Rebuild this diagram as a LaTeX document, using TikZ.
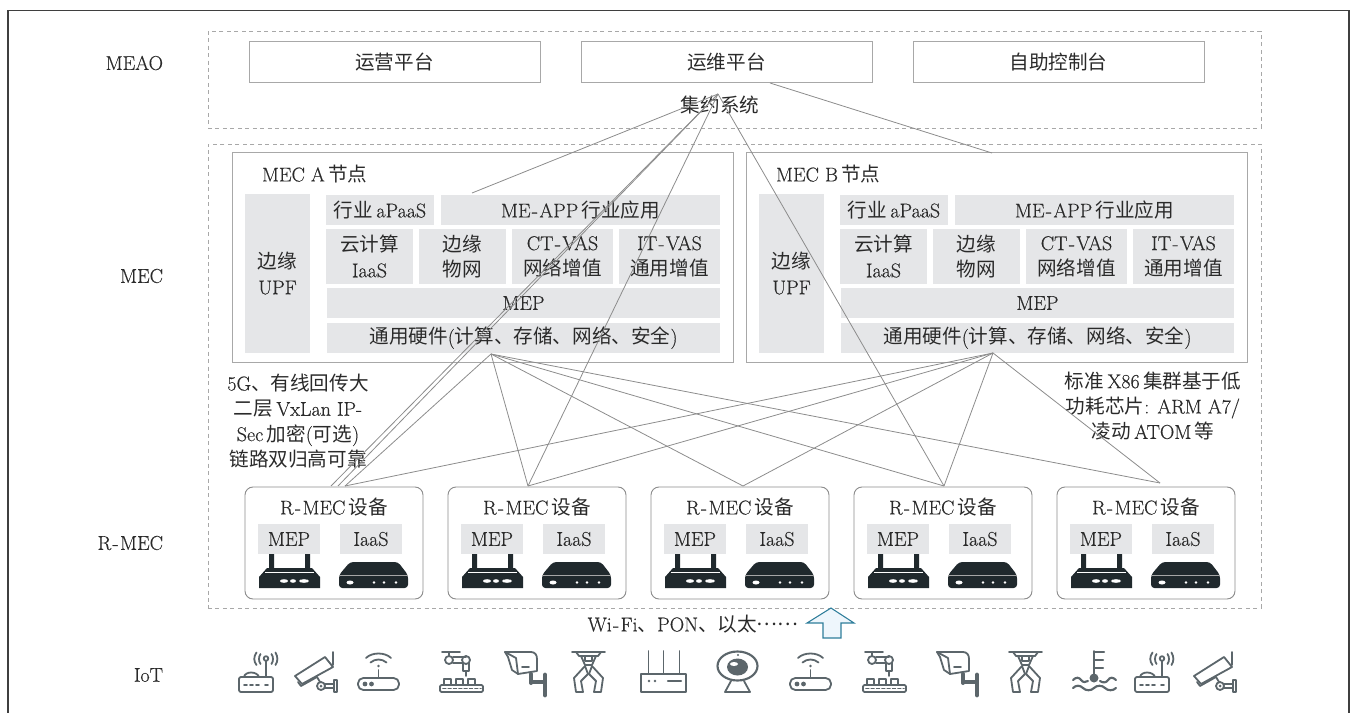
\documentclass[tikz,border=0pt]{standalone}
\usepackage{fontspec}
\setmainfont{Latin Modern Roman}[RawFeature={embolden=0.35}]
\newfontfamily\cjk{Noto Sans CJK SC}[Scale=0.98]
\newcommand{\zh}[1]{{\cjk #1}}
\newcommand{\hy}{\kern.07em-\kern.07em}
\definecolor{boxline}{HTML}{A8A8A8}
\definecolor{graybg}{HTML}{E5E6E8}
\definecolor{linkc}{HTML}{8C8C8C}
\definecolor{ink}{HTML}{2A2A2A}
\definecolor{icong}{HTML}{5C666B}
\definecolor{devblack}{HTML}{20292D}
\definecolor{arrline}{HTML}{2E7D9A}
\definecolor{arrfill}{HTML}{EEF6FC}
\tikzset{
  every node/.style={inner sep=0pt,outer sep=0pt,align=center,text=ink,font=\fontsize{15}{19}\selectfont},
  dashbox/.style={draw=boxline,line width=0.7pt,dash pattern=on 3pt off 2.6pt},
  platbox/.style={draw=boxline,line width=0.75pt},
  graybx/.style={fill=graybg},
  devbox/.style={draw=linkc,line width=0.7pt,rounded corners=6pt},
  link/.style={draw=linkc,line width=0.6pt},
  ic/.style={draw=icong,line width=1.35pt,line cap=round,line join=round},
  icf/.style={fill=icong},
  pics/antrouter/.style={code={
    \draw[ic,rounded corners=1.5pt] (0,25) rectangle (34,40);
    \draw[ic] (5,25) .. controls (6,19) and (18,19) .. (20,25);
    \draw[ic] (27,9) -- (27,25);
    \draw[ic] (27,6.5) circle (2.3);
    \draw[ic] (21.5,2) .. controls (19.5,5) and (19.5,9) .. (21.5,12);
    \draw[ic] (17.5,0.5) .. controls (14.5,5) and (14.5,9) .. (17.5,13);
    \draw[ic] (32.5,2) .. controls (34.5,5) and (34.5,9) .. (32.5,12);
    \draw[ic] (36.5,0.5) .. controls (39,5) and (39,9) .. (36.5,13);
    \draw[ic] (5,33) -- (8,33) (11,33) -- (14,33) (17,33) -- (20,33) (26,33) -- (29,33);
  }},
  pics/cctvcam/.style={code={
    \draw[ic] (0,24) -- (30,5) -- (38,15) -- (7,32) -- cycle;
    \draw[ic] (3,30) -- (6,34) -- (22,25);
    \draw[ic] (38,0) -- (38,13);
    \draw[ic] (22,25) -- (25,30);
    \draw[ic] (26,34) circle (4);
    \fill[icf] (26,34) circle (1.5);
    \draw[ic] (30,32) -- (38,32) (30,36) -- (38,36);
    \draw[ic] (39,28) rectangle (42,40);
  }},
  pics/wifirouter/.style={code={
    \draw[ic,rounded corners=4pt] (0,26) rectangle (41,38);
    \fill[icf] (7,32) circle (2.4) (13.5,32) circle (2.4);
    \draw[ic] (20.5,18) -- (20.5,26);
    \fill[icf] (20.5,14) circle (1.4);
    \draw[ic] (8,6) .. controls (14,0) and (27,0) .. (33,6);
    \draw[ic] (12.5,10.5) .. controls (17,6.5) and (24,6.5) .. (28.5,10.5);
  }},
  pics/robotarm/.style={code={
    \draw[ic] (2,1) -- (20,1);
    \draw[ic] (9,1) -- (9,5);
    \draw[ic] (9,9) circle (4);
    \draw[ic] (13,6) -- (26,6) (13,12) -- (22,12);
    \draw[ic] (26,9) circle (4);
    \draw[ic] (23,12) -- (23,20) -- (29,20) -- (29,12);
    \draw[ic] (26,20) -- (26,25);
    \draw[ic] (4,34) rectangle (11,28) (16,34) rectangle (23,28) (28,34) rectangle (35,28);
    \draw[ic,rounded corners=1pt] (0,34) rectangle (43,41);
    \draw[ic,dash pattern=on 2pt off 2pt] (3,37.5) -- (41,37.5);
  }},
  pics/bulletcam/.style={code={
    \draw[ic] (0,1) -- (26,1) .. controls (30,1) and (32,4) .. (32,8) -- (32,20) -- (13,23) -- (7,19) -- (3,6) -- cycle;
    \draw[ic] (0,1) -- (11,7) -- (13,23);
    \draw[ic] (17,16) -- (24,16);
    \draw[ic,line width=3pt] (26,23) -- (26,32);
    \draw[ic,line width=3pt] (26,31) -- (39,31);
    \draw[ic,line width=3.6pt] (40,24) -- (40,44);
  }},
  pics/gripper/.style={code={
    \draw[ic] (0,1) -- (33,1);
    \draw[ic] (4,1) -- (7,5) -- (26,5) -- (29,1);
    \draw[ic] (9,5) -- (13,14) -- (20,14) -- (24,5);
    \draw[ic] (13,5) -- (13,10) -- (20,10) -- (20,5);
    \draw[ic] (13,15) -- (2,27) -- (4,41) -- (11,41) -- (9,30) -- (16,23) -- cycle;
    \draw[ic] (20,15) -- (31,27) -- (29,41) -- (22,41) -- (24,30) -- (17,23) -- cycle;
  }},
  pics/threeant/.style={code={
    \draw[ic] (0,23) rectangle (45,41);
    \draw[ic] (7.5,0) -- (7.5,23) (22.5,0) -- (22.5,23) (38.5,0) -- (38.5,23);
    \fill[icf] (8,30) circle (1.3) (14,30) circle (1.3);
    \draw[ic,line width=1.8pt] (27,30) -- (40,30);
  }},
  pics/webcam/.style={code={
    \draw[ic,line width=1.6pt] (20.5,15) circle [x radius=20,y radius=14.5];
    \fill[icf] (20.5,16) circle [x radius=10.5,y radius=8.5];
    \fill[white] (17,13) circle [x radius=4,y radius=2];
    \fill[icf] (21,4) circle (1.2);
    \draw[ic] (14,30) -- (8,41) -- (33,41) -- (27,30);
  }},
  pics/thermo/.style={code={
    \draw[ic] (21,0) -- (21,24);
    \draw[ic,line width=1.6pt] (21,1) -- (31,1) (21,9) -- (30,9) (21,17) -- (30,17);
    \fill[icf] (21,27) circle (4.5);
    \draw[ic,line width=1.6pt] (0,29) .. controls (3,26) and (6,26) .. (8,29) .. controls (10,32) and (13,31) .. (15,30);
    \draw[ic,line width=1.6pt] (27,30) .. controls (30,32) and (33,32) .. (35,29) .. controls (37,26) and (40,26) .. (43,29);
    \draw[ic,line width=1.6pt] (0,37) .. controls (3,34) and (7,34) .. (10,37) .. controls (13,40) and (18,40) .. (21,37) .. controls (24,34) and (29,34) .. (32,37) .. controls (35,40) and (40,40) .. (43,37);
  }},
  pics/devrouter/.style={code={
    \fill[devblack] (10,0) rectangle (15,16) (46,0) rectangle (51,16);
    \fill[devblack] (8,14) -- (53,14) -- (61,23) -- (61,34) -- (0,34) -- (0,23) -- cycle;
    \draw[white,line width=0.9pt] (6,18.5) -- (55,18.5);
    \fill[white] (25,27) circle [x radius=4,y radius=1.8] (34,27) circle [x radius=3,y radius=1.8] (45,27) circle [x radius=5,y radius=1.8];
  }},
  pics/devbox2/.style={code={
    \fill[devblack,rounded corners=2.5pt] (11,1) -- (59,1) -- (69,14) -- (69,27) -- (0,27) -- (0,14) -- cycle;
    \draw[white!65!black,line width=0.8pt] (0,14.5) -- (69,14.5);
    \fill[white] (11,21.5) circle [x radius=3.5,y radius=2] (35,21.5) circle (1.3) (45,21.5) circle (1.3) (57,21.5) circle (1.3);
  }},
}
% name, x1, y1, x2, y2, style, text
\newcommand{\bx}[7]{\node[#6,minimum width={(#4-(#2))*0.75pt},minimum height={(#5-(#3))*0.75pt}] (#1) at ({((#2)+(#4))/2},{((#3)+(#5))/2}) {#7};}
\begin{document}
\begin{tikzpicture}[x=0.75pt,y=-0.75pt]
\useasboundingbox (0,0) rectangle (1353,713);
\draw[draw=ink!90,line width=0.9pt] (8,713) -- (8,10.5) -- (1349,10.5) -- (1349,713);

% left tier labels
\node[anchor=east] (lmeao) at (163,63) {MEAO};
\node[anchor=east] (lmec) at (163,276) {MEC};
\node[anchor=east] (lrmec) at (163,543) {R\hy MEC};
\node[anchor=east] (liot) at (163,675) {IoT};

% tier frames
\bx{meao}{208}{31}{1261}{128}{dashbox}{}
\bx{mec}{208}{144}{1261}{608}{dashbox}{}

% platforms
\bx{p1}{249}{42}{540}{83}{platbox}{\zh{运营平台}}
\bx{p2}{581}{42}{872}{83}{platbox}{\zh{运维平台}}
\bx{p3}{913}{42}{1204}{83}{platbox}{\zh{自助控制台}}
\node (jy) at (720,105) {\zh{集约系统}};

% MEC nodes
\foreach \n/\o/\t in {a/0/A,b/514/B}{
  \bx{node\n}{232+\o}{153}{733+\o}{362}{platbox}{}
  \node[anchor=west] (title\n) at (262+\o,174) {MEC \t\,\zh{节点}};
  \bx{upf\n}{245+\o}{194}{310+\o}{353}{graybx}{\zh{边缘}\\UPF}
  \bx{paas\n}{326+\o}{195}{434+\o}{225}{graybx}{\zh{行业}\,aPaaS}
  \bx{app\n}{441+\o}{195}{720+\o}{225}{graybx}{ME\hy APP\,\zh{行业应用}}
  \bx{iaas\n}{326+\o}{229}{413+\o}{284}{graybx}{\zh{云计算}\\IaaS}
  \bx{iot\n}{419+\o}{229}{506+\o}{284}{graybx}{\zh{边缘}\\\zh{物网}}
  \bx{ct\n}{512+\o}{229}{613+\o}{284}{graybx}{CT\hy VAS\\\zh{网络增值}}
  \bx{it\n}{619+\o}{229}{720+\o}{284}{graybx}{IT\hy VAS\\\zh{通用增值}}
  \bx{mep\n}{327+\o}{288}{720+\o}{318}{graybx}{MEP}
  \bx{hw\n}{327+\o}{323}{720+\o}{353}{graybx}{\zh{通用硬件}(\zh{计算、存储、网络、安全})}
}

% side notes
\node (noteL) at (298,421) {5G\zh{、有线回传大}\\\zh{二层}\,VxLan IP-\\Sec\,\zh{加密}(\zh{可选})\\\zh{链路双归高可靠}};
\node (noteR) at (1153,406) {\zh{标准}\,X86\,\zh{集群基于低}\\\zh{功耗芯片}: ARM A7/\\\zh{凌动}\,ATOM\,\zh{等}};

% R-MEC devices
\foreach \i/\x in {1/245,2/448,3/651,4/854,5/1057}{
  \bx{dev\i}{\x}{487}{\x+178}{599}{devbox}{}
  \node (devt\i) at (\x+89,507) {R\hy MEC\,\zh{设备}};
  \bx{dmep\i}{\x+13}{524}{\x+75}{554}{graybx}{MEP}
  \bx{diaas\i}{\x+95}{524}{\x+157}{554}{graybx}{IaaS}
  \pic at (\x+14,554) {devrouter};
  \pic at (\x+94,561) {devbox2};
}

% connector hubs and ends
\coordinate (apex) at (718,94);
\coordinate (hubA) at (491,354);
\coordinate (hubB) at (993,353);
\coordinate (appTop) at (472,193);
\coordinate (opsOut) at (770,83);
\coordinate (nodeBTop) at (992,153);
\coordinate (d1a) at (331,486);
\coordinate (d1b) at (338,486);
\coordinate (d1c) at (345,486);
\coordinate (d2a) at (528,486);
\coordinate (d3a) at (743,486);
\coordinate (d4a) at (944,486);
\coordinate (d5a) at (1160,483);

\draw[link] (apex) -- (appTop);
\draw[link] (apex) -- (d1a);
\draw[link] (apex) -- (d1b);
\draw[link] (apex) -- (d2a);
\draw[link] (apex) -- (d4a);
\draw[link] (opsOut) -- (nodeBTop);
\foreach \e in {d1c,d2a,d3a,d4a,d5a}{
  \draw[link] (hubA) -- (\e);
  \draw[link] (hubB) -- (\e);
}

% access label and arrow
\node (wifi) at (693,624) {Wi\hy Fi\zh{、}PON\zh{、以太}\raisebox{0.3em}{\zh{……}}};
\coordinate (arrTip) at (831,608);
\draw[draw=arrline,fill=arrfill,line width=0.8pt,line join=miter]
  (arrTip) -- (854,623) -- (841,623) -- (841,638) -- (823,638) -- (823,623) -- (807,623) -- cycle;

% IoT icons
\pic at (239,652) {antrouter};
\pic at (295,652) {cctvcam};
\pic at (358,652) {wifirouter};
\pic at (440,651) {robotarm};
\pic at (505,651) {bulletcam};
\pic at (572,651) {gripper};
\pic at (641,651) {threeant};
\pic at (717,651) {webcam};
\pic at (790,652) {wifirouter};
\pic at (863,651) {robotarm};
\pic at (937,651) {bulletcam};
\pic at (1009,651) {gripper};
\pic at (1073,651) {thermo};
\pic at (1135,652) {antrouter};
\pic at (1194,652) {cctvcam};
\end{tikzpicture}
\end{document}
